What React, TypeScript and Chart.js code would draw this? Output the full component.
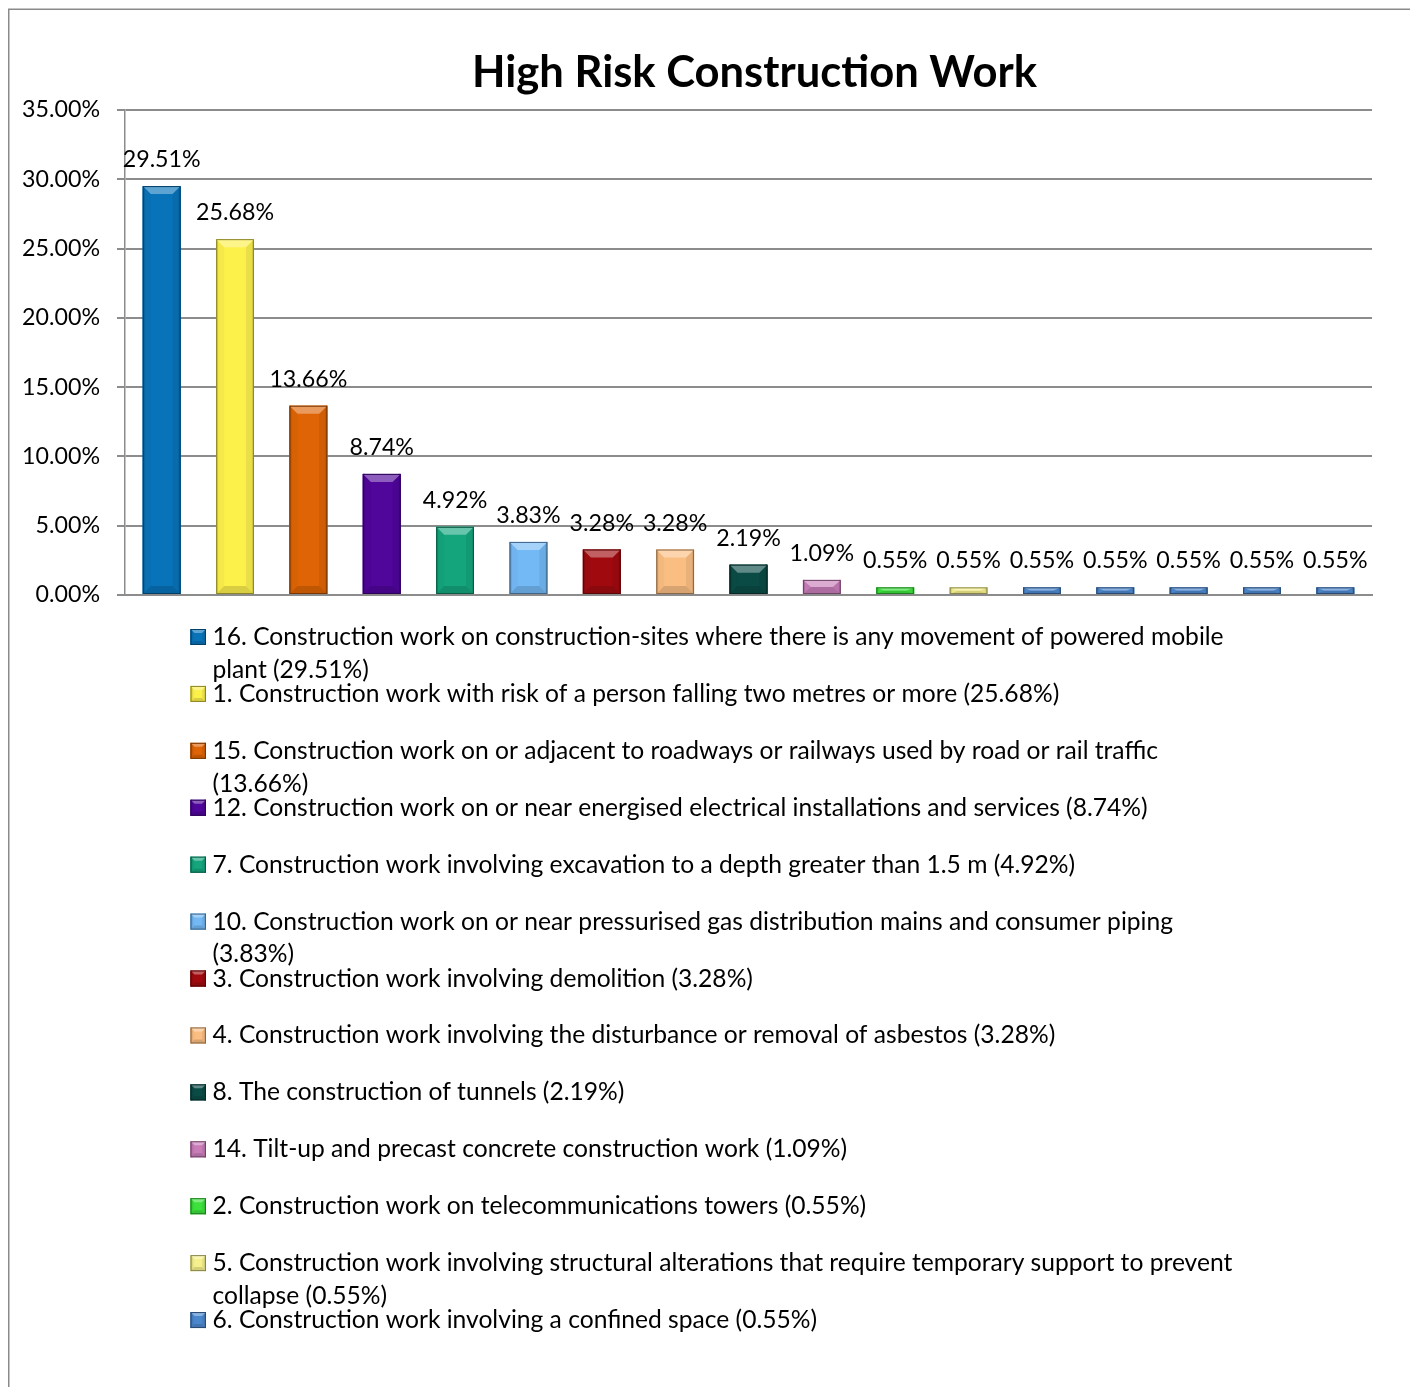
import React, { useEffect, useRef } from 'react';
import { Chart, registerables } from 'chart.js';

Chart.register(...registerables);

const titleText = 'High Risk Construction Work';

const categories: string[] = [
  '16. Construction work on construction-sites where there is any movement of powered mobile plant',
  '1. Construction work with risk of a person falling two metres or more',
  '15. Construction work on or adjacent to roadways or railways used by road or rail traffic',
  '12. Construction work on or near energised electrical installations and services',
  '7. Construction work involving excavation to a depth greater than 1.5 m',
  '10. Construction work on or near pressurised gas distribution mains and consumer piping',
  '3. Construction work involving demolition',
  '4. Construction work involving the disturbance or removal of asbestos',
  '8. The construction of tunnels',
  '14. Tilt-up and precast concrete construction work',
  '2. Construction work on telecommunications towers',
  '5. Construction work involving structural alterations that require temporary support to prevent collapse',
  '6. Construction work involving a confined space',
  '9. Construction work involving the use of explosives',
  '11. Construction work on or near chemical, fuel or refrigerant lines',
  '13. Construction work in an area that may have a contaminated or flammable atmosphere',
  '18. Construction work in or near water or other liquid that involves a risk of drowning',
];

const values: number[] = [29.51, 25.68, 13.66, 8.74, 4.92, 3.83, 3.28, 3.28, 2.19, 1.09, 0.55, 0.55, 0.55, 0.55, 0.55, 0.55, 0.55];

const barColors: string[] = [
  '#0873B9', '#FCF04B', '#DE6405', '#50059B', '#14A57D', '#73B9F5', '#A00A0F', '#FABE82',
  '#0A4B46', '#C87DB9', '#3CE13C', '#F5F08C', '#4B87CD', '#4B87CD', '#4B87CD', '#4B87CD', '#4B87CD',
];

const yMin = 0;
const yMax = 35;
const yStep = 5;

const FONT = 'Lato, "Noto Sans", sans-serif';
const fmt = (v: number) => v.toFixed(2) + '%';

function fitSize(text: string, target: number, weight: string) {
  const c = document.createElement('canvas').getContext('2d')!;
  c.font = `${weight} 100px ${FONT}`;
  return (100 * target) / c.measureText(text).width;
}

function parse(hex: string) {
  const h = hex.replace('#', '');
  return [0, 2, 4].map((i) => parseInt(h.substr(i, 2), 16));
}
function mix(hex: string, target: string, t: number) {
  const a = parse(hex);
  const b = parse(target);
  const c = a.map((v, i) => Math.round(v + (b[i] - v) * t));
  return `rgb(${c[0]},${c[1]},${c[2]})`;
}

function poly(ctx: CanvasRenderingContext2D, pts: number[][], color: string) {
  ctx.beginPath();
  ctx.moveTo(pts[0][0], pts[0][1]);
  for (let i = 1; i < pts.length; i++) ctx.lineTo(pts[i][0], pts[i][1]);
  ctx.closePath();
  ctx.fillStyle = color;
  ctx.fill();
}

function drawBevel(ctx: CanvasRenderingContext2D, x: number, y: number, w: number, h: number, color: string, bv: number) {
  const bt = Math.min(bv, h / 2);
  const bs = Math.min(bv, w / 2);
  ctx.save();
  ctx.fillStyle = color;
  ctx.fillRect(x, y, w, h);
  // sides
  poly(ctx, [[x, y], [x + bs, y + bt], [x + bs, y + h - bt], [x, y + h]], mix(color, '#000000', 0.03));
  poly(ctx, [[x + w, y], [x + w - bs, y + bt], [x + w - bs, y + h - bt], [x + w, y + h]], mix(color, '#000000', 0.07));
  // thin darker edges
  ctx.fillStyle = mix(color, '#000000', 0.15);
  ctx.fillRect(x, y, Math.min(2, w / 4), h);
  ctx.fillRect(x + w - Math.min(2, w / 4), y, Math.min(2, w / 4), h);
  // top
  poly(ctx, [[x, y], [x + w, y], [x + w - bs, y + bt], [x + bs, y + bt]], mix(color, '#ffffff', 0.35));
  // bottom
  poly(ctx, [[x, y + h], [x + w, y + h], [x + w - bs, y + h - bt], [x + bs, y + h - bt]], mix(color, '#000000', 0.14));
  ctx.strokeStyle = mix(color, '#000000', 0.45);
  ctx.lineWidth = 1;
  ctx.strokeRect(x + 0.5, y + 0.5, Math.max(0, w - 1), Math.max(0, h - 1));
  ctx.restore();
}

export default function App() {
  const ref = useRef<HTMLCanvasElement>(null);

  useEffect(() => {
    const canvas = ref.current!;
    const legendSize = fitSize(`${categories[1]} (${fmt(values[1])})`, 847, 'normal');
    const labelSize = fitSize(fmt(values[0]), 78, 'normal');
    const tickSize = fitSize('35.00%', 78, 'normal');
    const titleSize = fitSize(titleText, 565, 'bold');

    const framePlugin = {
      id: 'frame',
      beforeDraw(chart: any) {
        const { ctx, width, height } = chart;
        ctx.save();
        ctx.fillStyle = '#ffffff';
        ctx.fillRect(0, 0, width, height);
        ctx.strokeStyle = '#8a8a8a';
        ctx.lineWidth = 1.5;
        ctx.beginPath();
        ctx.moveTo(0.75, height);
        ctx.lineTo(0.75, 1.25);
        ctx.lineTo(width, 1.25);
        ctx.stroke();
        ctx.restore();
      },
    };

    const bevelPlugin = {
      id: 'bevel',
      afterDatasetsDraw(chart: any) {
        const { ctx } = chart;
        const meta = chart.getDatasetMeta(0);
        meta.data.forEach((el: any, i: number) => {
          const p = el.getProps(['x', 'y', 'base', 'width'], true);
          const l = p.x - p.width / 2;
          const t = Math.min(p.y, p.base);
          const b = Math.max(p.y, p.base);
          drawBevel(ctx, l, t, p.width, b - t, barColors[i], 8);
        });
      },
    };

    const labelPlugin = {
      id: 'valueLabels',
      afterDatasetsDraw(chart: any) {
        const { ctx } = chart;
        const meta = chart.getDatasetMeta(0);
        ctx.save();
        ctx.font = `${labelSize}px ${FONT}`;
        ctx.fillStyle = '#000000';
        ctx.textAlign = 'center';
        ctx.textBaseline = 'alphabetic';
        meta.data.forEach((el: any, i: number) => {
          const p = el.getProps(['x', 'y', 'base'], true);
          ctx.fillText(fmt(values[i]), p.x, Math.min(p.y, p.base) - 19);
        });
        ctx.restore();
      },
    };

    const titlePlugin = {
      id: 'customTitle',
      afterDraw(chart: any) {
        const { ctx, chartArea } = chart;
        ctx.save();
        ctx.font = `bold ${titleSize}px ${FONT}`;
        ctx.fillStyle = '#000000';
        ctx.textAlign = 'center';
        ctx.textBaseline = 'alphabetic';
        ctx.fillText(titleText, (chartArea.left + chartArea.right) / 2 + 6, chartArea.top - 23.3);
        ctx.restore();
      },
    };

    const legendPlugin = {
      id: 'customLegend',
      afterDraw(chart: any) {
        const { ctx, chartArea } = chart;
        const slot = 56.92;
        const lineH = 32.7;
        const maxW = 1035;
        const markerX = 182.5;
        const textX = 204.5;
        const baseline0 = chartArea.bottom + 50;
        const legendBottom = chartArea.bottom + 765;
        ctx.save();
        ctx.font = `${legendSize}px ${FONT}`;
        ctx.fillStyle = '#000000';
        ctx.textAlign = 'left';
        ctx.textBaseline = 'alphabetic';
        categories.forEach((cat, i) => {
          const bl = baseline0 + i * slot;
          if (bl - 28 + slot > legendBottom) return;
          const words = `${cat} (${fmt(values[i])})`.split(' ');
          const lines: string[] = [];
          let cur = '';
          words.forEach((w) => {
            const test = cur ? cur + ' ' + w : w;
            if (cur && ctx.measureText(test).width > maxW) {
              lines.push(cur);
              cur = w;
            } else cur = test;
          });
          if (cur) lines.push(cur);
          drawBevel(ctx, markerX, bl - 16, 15.5, 16, barColors[i], 4);
          ctx.font = `${legendSize}px ${FONT}`;
          ctx.fillStyle = '#000000';
          lines.forEach((ln, k) => ctx.fillText(ln, textX, bl + k * lineH));
        });
        ctx.restore();
      },
    };

    const chart = new Chart(canvas, {
      type: 'bar',
      data: {
        labels: categories,
        datasets: [
          {
            data: values,
            backgroundColor: barColors,
            borderWidth: 0,
            categoryPercentage: 1,
            barPercentage: 0.515,
          },
        ],
      },
      options: {
        responsive: false,
        animation: false,
        layout: { padding: { top: 102, right: 38, bottom: 792, left: 0 } },
        plugins: {
          legend: { display: false },
          title: { display: false },
          tooltip: { enabled: false },
        },
        scales: {
          x: {
            grid: { display: false },
            border: { display: true, color: '#8c8c8c', width: 2 },
            ticks: { display: false },
            afterFit: (s: any) => {
              s.height = 0;
            },
          },
          y: {
            min: yMin,
            max: yMax,
            ticks: {
              stepSize: yStep,
              callback: (v: any) => Number(v).toFixed(2) + '%',
              color: '#000000',
              font: { family: FONT, size: tickSize },
              padding: 17,
            },
            grid: { color: '#8c8c8c', lineWidth: 2, tickLength: 8, drawTicks: true, tickColor: '#8c8c8c' },
            border: { display: true, color: '#8c8c8c', width: 1.5 },
            afterFit: (s: any) => {
              s.width = 117;
            },
          },
        },
      } as any,
      plugins: [framePlugin, bevelPlugin, labelPlugin, titlePlugin, legendPlugin],
    });
    return () => chart.destroy();
  }, []);

  return (
    <div style={{ position: 'fixed', left: 8, top: 8, width: 1402, height: 1379, background: '#fff' }}>
      <canvas ref={ref} width={1402} height={1379} style={{ display: 'block', width: 1402, height: 1379 }} />
    </div>
  );
}
